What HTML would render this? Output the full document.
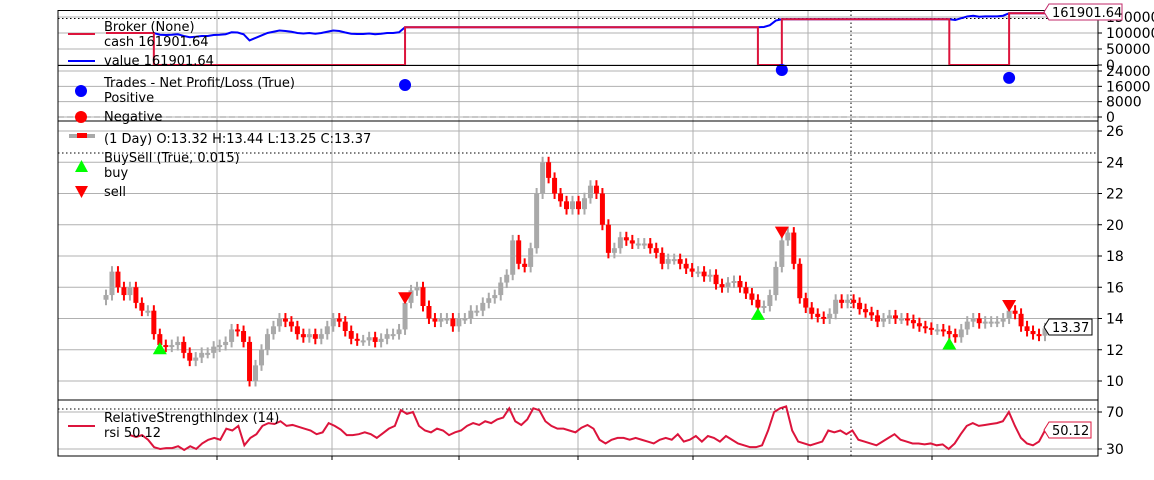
<!DOCTYPE html>
<html><head><meta charset="utf-8"><style>
body{margin:0;background:#fff;width:1154px;height:480px;overflow:hidden}
svg{display:block;font-family:"DejaVu Sans","Liberation Sans",sans-serif}
</style></head><body>
<svg id="chart" width="1154" height="480" xmlns="http://www.w3.org/2000/svg"></svg>
<script>
const closes=[15.5,17,16,15.5,16,15,14.5,14.5,13,12.3,12.2,12.3,12.5,11.8,11.3,11.5,11.8,11.8,12.2,12.3,12.5,13.3,13.2,12.5,10,11,12,13,13.5,14,13.8,13.5,13,12.8,13,12.7,13,13.5,14,13.8,13.2,12.7,12.6,12.6,12.8,12.5,12.7,13,13,13.3,15,15.8,16,14.8,14,13.8,14,14,13.5,14,14,14.5,14.5,15,15.3,15.5,16.3,16.8,19,17.5,17.3,18.5,22,24,23,22,21.5,21,21.5,21,21.7,22.5,22,20,18.2,18.5,19.2,19,18.8,18.8,18.8,18.5,18.2,17.5,17.8,17.8,17.5,17.2,17,17,16.7,16.8,16.2,16,16.3,16.4,16,15.6,15.2,14.7,14.8,15.5,17.3,19,19.5,17.5,15.3,14.7,14.3,14.1,14,14.3,15.2,15,15.2,15,14.6,14.4,14.2,13.8,14,14.2,14,14,13.9,13.7,13.5,13.4,13.3,13.3,13.2,13,12.8,13.3,13.8,14,13.7,13.8,13.8,13.8,14,14.5,14.3,13.5,13.2,13,12.9,13.37];
const rsiVals=[45,43,45,40,32,30,31,31,33,29,33,30,36,40,42,40,52,50,55,34,42,46,55,58,57,60,55,56,54,52,50,46,48,58,55,51,45,45,46,48,46,42,47,52,55,72,68,70,55,50,48,52,50,45,48,50,55,58,56,60,58,62,64,74,60,56,62,74,72,60,55,52,52,50,48,53,56,52,40,36,40,42,42,40,42,40,38,36,40,42,40,46,38,40,44,38,44,42,38,44,40,36,34,32,32,34,50,70,74,76,50,38,36,34,36,38,50,48,50,46,50,40,38,36,34,38,42,46,40,38,36,36,35,36,34,35,30,36,46,55,58,55,56,57,58,60,70,55,42,36,34,38,50.12];
const buyIdx=[9,109,141];
const buyVals=[12.1,14.3,12.4];
const sellIdx=[50,113,151];
const sellVals=[15.3,19.5,14.8];
const tradeIdx=[50,113,151];
const tradeVals=[16700,24500,20400];
const cashStepIdx=[0,8,50,109,113,141,151];
const cashStepVals=[100000,0,118000,0,143000,0,161901.64];
const priceTicks=[10,12,14,16,18,20,22,24,26];
const brokerTicks=[0,50000,100000,150000];
const tradeTicks=[0,8000,16000,24000];
const rsiTicks=[30,70];

const svg=document.getElementById('chart');
const NS='http://www.w3.org/2000/svg';
function mk(tag,attrs,parent){const e=document.createElementNS(NS,tag);for(const k in attrs)e.setAttribute(k,attrs[k]);(parent||svg).appendChild(e);return e;}
const L=58,R=1098;
const n=closes.length;
const xs=i=>106+i*(1045-106)/(n-1);
const yP=v=>381-(v-10)*15.625;
const yB=v=>65-v/50000*16;
const yT=v=>117-v/8000*15.33;
const yR=v=>449-(v-30)*37/40;
const xR=i=>130+i*(1045-130)/(rsiVals.length-1);
const panels=[[10.5,65.5],[65.5,121],[121,400],[400,456]];
const vgrid=[217,332,459,578,693,808,932];
panels.forEach(p=>{vgrid.forEach(x=>{const g=mk('line',{x1:x,x2:x,y1:p[0],y2:p[1],stroke:'#b0b0b0','stroke-width':1});});});
function hgrid(ticks,yf,fmt){ticks.forEach(t=>{const y=yf(t);
 const g=mk('line',{x1:L,x2:R,y1:y,y2:y,stroke:'#b0b0b0','stroke-width':1});
 mk('line',{x1:R,x2:R+4,y1:y,y2:y,stroke:'#000'});
 const tx=mk('text',{x:R+8,y:y+5,'font-size':14,fill:'#000'});tx.textContent=fmt(t);});}
hgrid(brokerTicks,yB,String);hgrid(tradeTicks,yT,String);hgrid(priceTicks,yP,String);hgrid(rsiTicks,yR,String);
mk('line',{x1:L,x2:R,y1:117,y2:117,stroke:'#c8c8c8','stroke-width':2,'stroke-dasharray':'6,3'});
[[18.5],[153],[409]].forEach(a=>mk('line',{x1:L,x2:R,y1:a[0],y2:a[0],stroke:'#000','stroke-dasharray':'1.5,2.5'}));
mk('line',{x1:851,x2:851,y1:10.5,y2:456,stroke:'#000','stroke-dasharray':'1.5,2.5'});
vgrid.forEach(x=>mk('line',{x1:x,x2:x,y1:456,y2:460,stroke:'#000'}));
const valPts=[];const cashPts=[];
for(let i=0;i<n;i++){
 let cv=cashStepVals[0];for(let k=0;k<cashStepIdx.length;k++)if(i>=cashStepIdx[k])cv=cashStepVals[k];
 const pc=i>0?cashPts[cashPts.length-1]:null;
 if(pc&&pc[2]!==cv)cashPts.push([xs(i),pc[1],cv]);
 cashPts.push([xs(i),yB(cv),cv]);
 let v=cv;
 if(i>=8&&i<50)v=100000*closes[i]/closes[8];
 if(i>=109&&i<113)v=118000*closes[i]/closes[109];
 if(i>=141&&i<151)v=143000*closes[i]/closes[141];
 valPts.push([xs(i),yB(v)]);
}
valPts.push([R,yB(161901.64)]);
cashPts.push([R,yB(161901.64)]);
let vl=mk('polyline',{points:valPts.map(p=>p.join(',')).join(' '),fill:'none',stroke:'#0000ff','stroke-width':2});

let cl=mk('polyline',{points:cashPts.map(p=>p[0]+','+p[1]).join(' '),fill:'none',stroke:'#dc143c','stroke-width':2});

tradeIdx.forEach((ix,k)=>{const c=mk('circle',{cx:xs(ix),cy:yT(tradeVals[k]),r:6,fill:'#0000ff'});});
for(let i=0;i<n;i++){const o=i>0?closes[i-1]:closes[i]-0.3,c=closes[i];
 const hi=Math.max(o,c)+0.35,lo=Math.min(o,c)-0.35;const col=c>=o?'#a9a9a9':'#ff0000';const x=xs(i);
 const g=mk('g',{});
 mk('line',{x1:x,x2:x,y1:yP(hi),y2:yP(lo),stroke:col,'stroke-width':2},g);
 mk('rect',{x:x-2.5,y:yP(Math.max(o,c)),width:5,height:Math.max(2,Math.abs(yP(o)-yP(c))),fill:col},g);}
buyIdx.forEach((ix,k)=>{const x=xs(ix),y=yP(buyVals[k]);const t=mk('polygon',{points:`${x-7},${y+6} ${x+7},${y+6} ${x},${y-6}`,fill:'#00ff00'});});
sellIdx.forEach((ix,k)=>{const x=xs(ix),y=yP(sellVals[k]);const t=mk('polygon',{points:`${x-7},${y-6} ${x+7},${y-6} ${x},${y+6}`,fill:'#ff0000'});});
let rl=mk('polyline',{points:rsiVals.map((v,i)=>xR(i)+','+yR(v)).join(' '),fill:'none',stroke:'#dc143c','stroke-width':2});

panels.forEach(p=>{const b=mk('rect',{x:L,y:p[0],width:R-L,height:p[1]-p[0],fill:'none',stroke:'#000','stroke-width':1});});
function txt(x,y,s,name){const t=mk('text',{x:x,y:y,'font-size':13,fill:'#000'});t.textContent=s;}
mk('line',{x1:68,x2:95,y1:34,y2:34,stroke:'#dc143c','stroke-width':2});
mk('line',{x1:68,x2:95,y1:61,y2:61,stroke:'#0000ff','stroke-width':2});
txt(104,31,'Broker (None)','broker-legend-title');txt(104,46,'cash 161901.64','cash-legend');txt(104,65,'value 161901.64','value-legend');
mk('circle',{cx:81,cy:91,r:6,fill:'#0000ff'});mk('circle',{cx:81,cy:117,r:6,fill:'#ff0000'});
txt(104,87,'Trades - Net Profit/Loss (True)','trades-legend-title');txt(104,102,'Positive','positive-legend');txt(104,121,'Negative','negative-legend');
mk('rect',{x:69,y:134,width:26,height:4,fill:'#a9a9a9'});mk('rect',{x:77,y:133,width:10,height:5,fill:'#ff0000'});
txt(104,143,' (1 Day) O:13.32 H:13.44 L:13.25 C:13.37','data-legend');
txt(104,162,'BuySell (True, 0.015)','buysell-legend-title');txt(104,177,'buy','buy-legend');txt(104,196,'sell','sell-legend');
mk('polygon',{points:'75,172 88,172 81.5,160',fill:'#00ff00'});mk('polygon',{points:'75,186 88,186 81.5,198',fill:'#ff0000'});
mk('line',{x1:68,x2:95,y1:426,y2:426,stroke:'#dc143c','stroke-width':2});
txt(104,422,'RelativeStrengthIndex (14)','rsi-legend-title');txt(104,437,'rsi 50.12','rsi-legend-value');
function tag(x,y,w,s,col,name){const g=mk('g',{});
 mk('path',{d:`M${x},${y} l5,-8 h${w} v16 h-${w} z`,fill:'#fff',stroke:col,'stroke-width':1},g);
 const t=mk('text',{x:x+8,y:y+5,'font-size':13,fill:'#000'},g);t.textContent=s;}
tag(1044,12,73,'161901.64','#c0286a','value-tag');
tag(1044,327,43,'13.37','#000','close-tag');
tag(1044,430,42,'50.12','#dc143c','rsi-tag');
</script>
</body></html>
